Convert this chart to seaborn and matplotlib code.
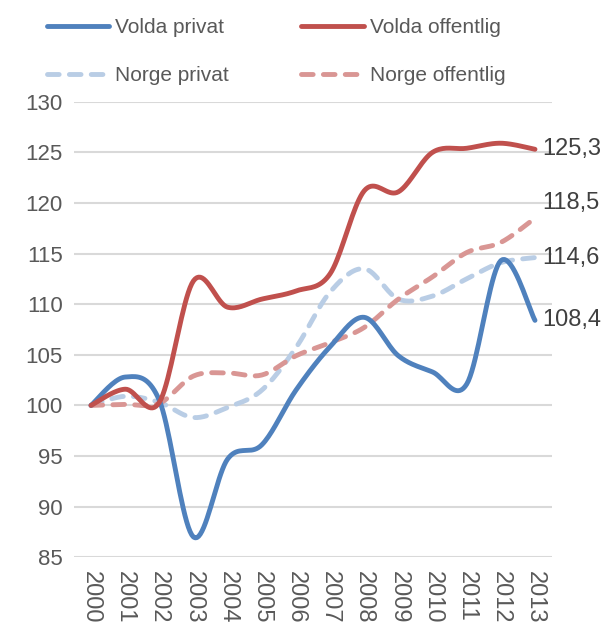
import matplotlib
matplotlib.use("Agg")
import matplotlib.pyplot as plt
import seaborn as sns
import numpy as np
import pandas as pd

years = list(range(2000, 2014))
volda_privat = [100, 102.8, 100.5, 87.0, 94.7, 96.1, 101.5, 105.8, 108.7, 104.9, 103.3, 102.1, 114.3, 108.4]
volda_offentlig = [100, 101.6, 100.3, 112.3, 109.7, 110.5, 111.3, 113.0, 121.2, 121.1, 125.0, 125.4, 125.9, 125.3]
norge_privat = [100, 100.9, 100.3, 98.8, 99.8, 101.5, 105.7, 111.2, 113.5, 110.5, 110.8, 112.5, 114.1, 114.6]
norge_offentlig = [100, 100.1, 100.2, 102.9, 103.2, 103.0, 104.9, 106.2, 107.7, 110.5, 112.7, 115.1, 116.1, 118.5]

series = {
    "Volda privat": volda_privat,
    "Volda offentlig": volda_offentlig,
    "Norge privat": norge_privat,
    "Norge offentlig": norge_offentlig,
}
colors = {
    "Volda privat": "#4F81BD",
    "Volda offentlig": "#C0504D",
    "Norge privat": "#B9CDE5",
    "Norge offentlig": "#D99694",
}
dashed = {"Norge privat", "Norge offentlig"}


def smooth(y, n=20):
    # Catmull-Rom style bezier, like Excel's smoothed lines
    y = np.asarray(y, dtype=float)
    x = np.arange(len(y), dtype=float)
    xs, ys = [], []
    for i in range(len(y) - 1):
        p0 = np.array([x[max(i - 1, 0)], y[max(i - 1, 0)]])
        p1 = np.array([x[i], y[i]])
        p2 = np.array([x[i + 1], y[i + 1]])
        p3 = np.array([x[min(i + 2, len(y) - 1)], y[min(i + 2, len(y) - 1)]])
        c1 = p1 + (p2 - p0) / 6
        c2 = p2 - (p3 - p1) / 6
        t = np.linspace(0, 1, n, endpoint=(i == len(y) - 2))[:, None]
        pts = ((1 - t) ** 3) * p1 + 3 * ((1 - t) ** 2) * t * c1 + 3 * (1 - t) * t ** 2 * c2 + t ** 3 * p2
        xs.extend(pts[:, 0])
        ys.extend(pts[:, 1])
    return np.array(xs), np.array(ys)


sns.set_style("white")
plt.rcParams["font.family"] = ["Liberation Sans", "DejaVu Sans"]

fig = plt.figure(figsize=(6.06, 6.24), dpi=100)
ax = fig.add_axes([0.122, 0.107, 0.789, 0.730])

handles = {}
for name in ["Norge privat", "Norge offentlig", "Volda privat", "Volda offentlig"]:
    sx, sy = smooth(series[name])
    df = pd.DataFrame({"x": sx, "y": sy})
    sns.lineplot(data=df, x="x", y="y", ax=ax, color=colors[name], lw=3.5,
                 estimator=None, sort=False, label=name)
    line = ax.get_lines()[-1]
    line.set_solid_capstyle("round")
    if name in dashed:
        line.set_dashes((2.4, 2.1))
        line.set_dash_capstyle("round")
    handles[name] = line

ax.set_xlim(-0.5, len(years) - 0.5)
ax.set_ylim(85, 130)
ax.set_yticks(np.arange(85, 131, 5))
ax.set_xticks(range(len(years)))
ax.set_xticklabels([str(y) for y in years], rotation=-90, va="top", ha="center")
ax.tick_params(axis="both", length=0, labelcolor="#595959")
ax.tick_params(axis="y", pad=8, labelsize=16)
ax.tick_params(axis="x", pad=10, labelsize=17)
ax.set_xlabel("")
ax.set_ylabel("")
ax.yaxis.grid(True, color="#D9D9D9", lw=1.5)
ax.xaxis.grid(False)
for s in ax.spines.values():
    s.set_visible(False)
ax.set_axisbelow(True)

# end labels
end_offsets = {"Volda offentlig": 0, "Norge offentlig": 11, "Norge privat": 0, "Volda privat": 0}
for name, vals in series.items():
    ax.annotate(f"{vals[-1]:.1f}".replace(".", ","), (len(years) - 1, vals[-1]),
                xytext=(5, end_offsets[name]), textcoords="offset points",
                fontsize=17, color="#404040", va="center", ha="left",
                annotation_clip=False)

ax.get_legend().remove()
order = ["Volda privat", "Norge privat", "Volda offentlig", "Norge offentlig"]
fig.legend([handles[n] for n in order], order, ncol=2, loc="upper left",
           bbox_to_anchor=(0.077, 0.971), frameon=False, fontsize=15,
           labelcolor="#595959", handlelength=3.0, handletextpad=0.3,
           columnspacing=3.45, labelspacing=1.4, borderpad=0, borderaxespad=0)

fig.savefig("out.png", dpi=100)
